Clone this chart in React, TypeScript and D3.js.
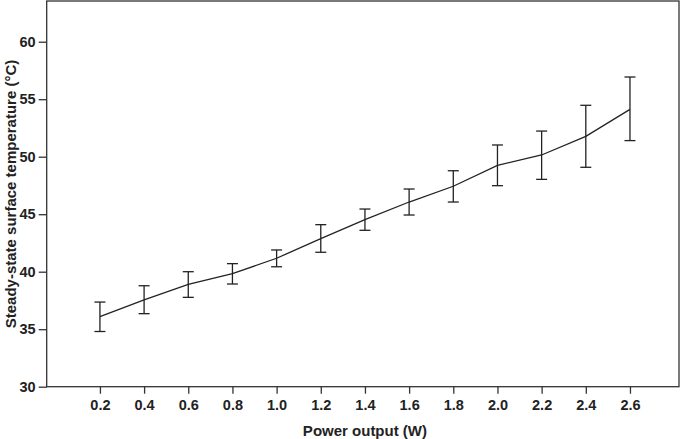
import React, { useRef, useEffect } from "react";
import * as d3 from "d3";

const power = [0.2, 0.4, 0.6, 0.8, 1.0, 1.2, 1.4, 1.6, 1.8, 2.0, 2.2, 2.4, 2.6];
const meanTemp = [36.1, 37.55, 38.9, 39.83, 41.17, 42.87, 44.52, 46.06, 47.43, 49.25, 50.15, 51.77, 54.12];
const upperTemp = [37.36, 38.78, 40.0, 40.7, 41.89, 44.09, 45.45, 47.19, 48.78, 51.02, 52.23, 54.47, 56.93];
const lowerTemp = [34.8, 36.35, 37.77, 38.93, 40.43, 41.69, 43.6, 44.93, 46.06, 47.48, 48.03, 49.08, 51.4];
const yTicks = [30, 35, 40, 45, 50, 55, 60];

const W = 685;
const H = 439;

const App = () => {
  const svgRef = useRef<SVGSVGElement>(null);

  useEffect(() => {
    if (!svgRef.current) return;
    const margin = { top: 1, right: 6, bottom: 52.3, left: 46.7 };
    const width = W - margin.left - margin.right;
    const height = H - margin.top - margin.bottom;
    const ink = "#222";
    const font = "'Liberation Sans', Arial, sans-serif";

    const x = d3.scaleLinear().domain([-0.041, 2.822]).range([0, width]);
    const y = d3.scaleLinear().domain([30, 63.54]).range([height, 0]);

    d3.select(svgRef.current).selectAll("*").remove();
    const svg = d3
      .select(svgRef.current)
      .attr("width", W)
      .attr("height", H)
      .append("g")
      .attr("transform", `translate(${margin.left},${margin.top})`);

    // frame
    svg
      .append("rect")
      .attr("width", width)
      .attr("height", height)
      .attr("fill", "none")
      .attr("stroke", "#333")
      .attr("stroke-width", 1.3);

    // x axis
    const xAxis = svg
      .append("g")
      .attr("transform", `translate(0,${height})`)
      .call(
        d3
          .axisBottom(x)
          .tickValues(power)
          .tickSize(7)
          .tickPadding(6)
          .tickFormat(d3.format(".1f"))
      );
    xAxis.select(".domain").remove();

    // y axis
    const yAxis = svg
      .append("g")
      .call(d3.axisLeft(y).tickValues(yTicks).tickSize(8).tickPadding(3));
    yAxis.select(".domain").remove();

    [xAxis, yAxis].forEach((a) => {
      a.selectAll("line").attr("stroke", "#333").attr("stroke-width", 1.3);
      a.selectAll("text")
        .style("font-family", font)
        .style("font-size", "14.5px")
        .style("font-weight", "bold")
        .style("fill", ink);
    });

    // error bars
    const cap = 5.5;
    const bars = svg.append("g").attr("stroke", ink).attr("stroke-width", 1.3);
    power.forEach((p, i) => {
      const cx = x(p);
      bars.append("line").attr("x1", cx).attr("x2", cx).attr("y1", y(upperTemp[i])).attr("y2", y(lowerTemp[i]));
      bars.append("line").attr("x1", cx - cap).attr("x2", cx + cap).attr("y1", y(upperTemp[i])).attr("y2", y(upperTemp[i]));
      bars.append("line").attr("x1", cx - cap).attr("x2", cx + cap).attr("y1", y(lowerTemp[i])).attr("y2", y(lowerTemp[i]));
    });

    // mean line
    const line = d3
      .line<number>()
      .x((_, i) => x(power[i]))
      .y((d) => y(d));
    svg
      .append("path")
      .datum(meanTemp)
      .attr("d", line)
      .attr("fill", "none")
      .attr("stroke", ink)
      .attr("stroke-width", 1.3);

    // labels
    svg
      .append("text")
      .attr("x", x(1.4))
      .attr("y", height + 49)
      .attr("text-anchor", "middle")
      .style("font-family", font)
      .style("font-size", "15px")
      .style("font-weight", "bold")
      .style("fill", ink)
      .text("Power output (W)");

    svg
      .append("text")
      .attr("transform", "rotate(-90)")
      .attr("x", -193)
      .attr("y", -margin.left + 15.5)
      .attr("text-anchor", "middle")
      .style("font-family", font)
      .style("font-size", "15px")
      .style("font-weight", "bold")
      .style("fill", ink)
      .text("Steady-state surface temperature (°C)");
  }, []);

  return (
    <div style={{ position: "absolute", left: 0, top: 0, width: W, height: H, background: "#fff" }}>
      <svg ref={svgRef} style={{ display: "block" }}></svg>
    </div>
  );
};

export default App;
